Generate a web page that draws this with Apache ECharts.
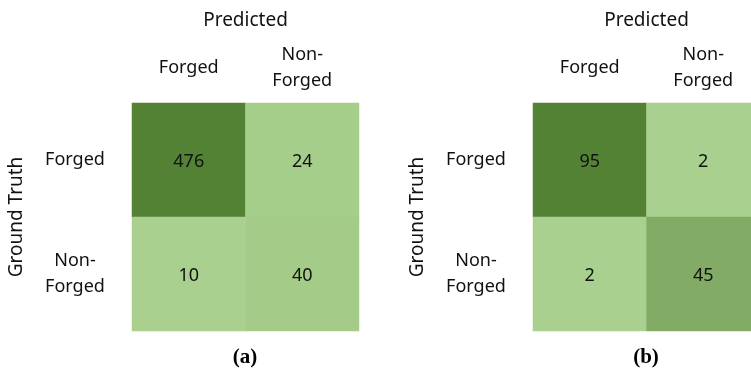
<!DOCTYPE html>
<html>
<head>
<meta charset="utf-8">
<script src="https://cdn.jsdelivr.net/npm/echarts@6/dist/echarts.min.js"></script>
<style>
  html, body { margin: 0; padding: 0; background: #fff; }
  #chart { width: 751px; height: 371px; }
</style>
</head>
<body>
<div id="chart"></div>
<script>
// Class labels for both matrices
const predictedClasses = ['Forged', 'Non-\nForged'];
const actualClasses = ['Forged', 'Non-\nForged'];

// Confusion matrix counts, rows = ground truth, columns = predicted
const matrixA = [
  [476, 24],
  [10, 40]
];
const matrixB = [
  [95, 2],
  [2, 45]
];

const panelLabels = ['(a)', '(b)'];

const FONT = '"Noto Sans", sans-serif';
const TEXT = '#111111';
const LIGHT = '#A9D08E';
const DARK = '#548235';

function toCells(m) {
  const out = [];
  m.forEach((row, r) => row.forEach((v, c) => out.push([c, r, v])));
  return out;
}

function flat(m) { return m.reduce((a, r) => a.concat(r), []); }

const panels = [
  { left: 132, matrix: matrixA },
  { left: 533, matrix: matrixB }
];

const grids = [], xAxes = [], yAxes = [], series = [], visualMaps = [], graphics = [];

panels.forEach((p, i) => {
  grids.push({
    left: p.left, top: 103, width: 227, height: 228,
    containLabel: false, outerBoundsMode: 'none'
  });
  xAxes.push({
    type: 'category', gridIndex: i, position: 'top',
    data: predictedClasses,
    name: 'Predicted', nameLocation: 'middle', nameGap: 73,
    nameTextStyle: { fontFamily: FONT, fontSize: 19, color: TEXT },
    axisLine: { show: false }, axisTick: { show: false }, splitLine: { show: false },
    axisLabel: {
      fontFamily: FONT, fontSize: 18, color: TEXT, margin: 35,
      verticalAlign: 'middle', align: 'center', lineHeight: 26
    }
  });
  yAxes.push({
    type: 'category', gridIndex: i, inverse: true,
    data: actualClasses,
    name: 'Ground Truth', nameLocation: 'middle', nameRotate: 90, nameGap: 106,
    nameTextStyle: { fontFamily: FONT, fontSize: 19, color: TEXT },
    axisLine: { show: false }, axisTick: { show: false }, splitLine: { show: false },
    axisLabel: {
      fontFamily: FONT, fontSize: 18, color: TEXT, margin: 57,
      align: 'center', verticalAlign: 'middle', lineHeight: 26,
      padding: [5, 0, 0, 0]
    }
  });
  const vals = flat(p.matrix);
  visualMaps.push({
    type: 'continuous', show: false, seriesIndex: i,
    min: Math.min.apply(null, vals), max: Math.max.apply(null, vals),
    inRange: { color: [LIGHT, DARK] }
  });
  series.push({
    type: 'heatmap', xAxisIndex: i, yAxisIndex: i,
    data: toCells(p.matrix),
    label: {
      show: true, fontFamily: FONT, fontSize: 18, color: TEXT,
      offset: [0, 2],
      formatter: (d) => String(d.value[2])
    },
    itemStyle: { borderWidth: 0 },
    emphasis: { disabled: true }
  });
  graphics.push({
    type: 'text', x: p.left + 113, y: 358,
    style: {
      text: panelLabels[i], textAlign: 'center', textVerticalAlign: 'middle',
      font: 'bold 21px "Liberation Serif", "Times New Roman", serif', fill: '#000'
    }
  });
});

const chart = echarts.init(document.getElementById('chart'), null, { renderer: 'canvas' });
chart.setOption({
  backgroundColor: '#fff',
  animation: false,
  grid: grids,
  xAxis: xAxes,
  yAxis: yAxes,
  visualMap: visualMaps,
  series: series,
  graphic: graphics
});
</script>
</body>
</html>
